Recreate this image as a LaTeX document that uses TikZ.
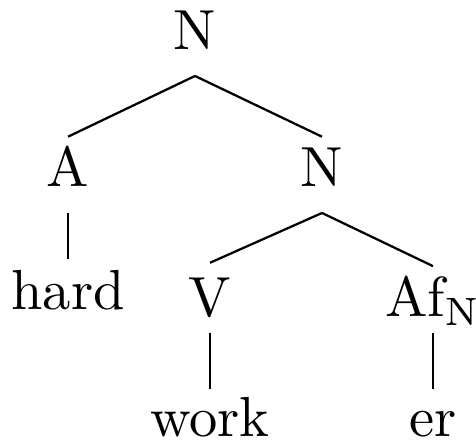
\documentclass[tikz,border=0pt]{standalone}
\usepackage{tikz}

\tikzset{
  cat/.style={inner sep=0pt, anchor=base, text height=8.7pt, text depth=4.4pt},
  leaf/.style={inner sep=0pt, anchor=base, text height=8.6pt, text depth=2.7pt}
}

\begin{document}
\begin{tikzpicture}[x=0.177pt, y=-0.177pt]
\useasboundingbox (0,0) rectangle (476,442);

\node [cat] (nTop) at (195,50) {N};
\node [cat] (aAdj) at (68,187) {A};
\node [cat] (nSub) at (322,187) {N};
\node [leaf, text height=8.85pt] (hard) at (68,310) {hard};
\node [leaf, text height=9.4pt] (vVerb) at (210,317) {V};
\node [leaf, text height=8.8pt] (afN) at (433,317) {Af$_{\mathrm{N}}$};
\node [leaf, text height=8.3pt] (work) at (210,437) {work};
\node [leaf, text height=8.3pt] (er) at (433,437) {er};

\draw (nTop.south) -- (aAdj.north);
\draw (nTop.south) -- (nSub.north);
\draw (aAdj.south) -- (hard.north);
\draw (nSub.south) -- (vVerb.north);
\draw (nSub.south) -- (afN.north);
\draw (vVerb.south) -- (work.north);
\draw (afN.south) -- (er.north);
\end{tikzpicture}
\end{document}
